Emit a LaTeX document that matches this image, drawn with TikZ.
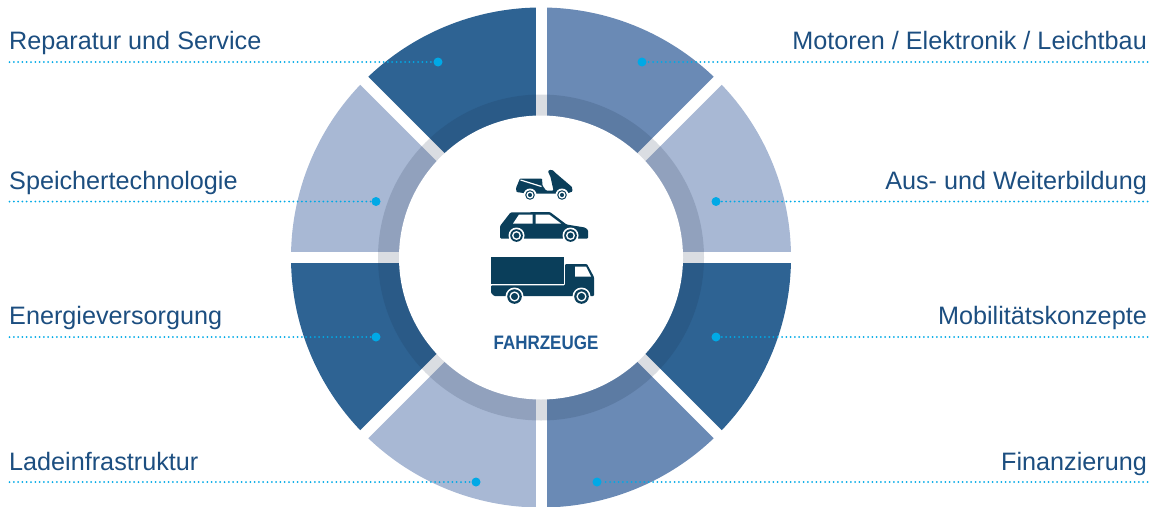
\documentclass[tikz,border=0pt]{standalone}
\usepackage{fontspec}
\setmainfont{Liberation Sans}
\usetikzlibrary{positioning}

\definecolor{segdark}{RGB}{46,99,147}
\definecolor{segmid}{RGB}{106,138,181}
\definecolor{seglight}{RGB}{168,184,212}
\definecolor{bandtint}{RGB}{25,45,75}
\definecolor{labelblue}{RGB}{28,78,128}
\definecolor{dotcyan}{RGB}{0,169,230}
\definecolor{iconteal}{RGB}{10,62,90}
\definecolor{titleblue}{RGB}{31,88,145}

\newcommand{\wheelat}[2]{%
  \fill[white] (#1) circle ({#2+1.7});
  \fill[vehicle] (#1) circle (#2);
  \draw[white, line width=1.3pt] (#1) circle ({#2*0.6});
}

\begin{document}
\begin{tikzpicture}[x=1pt, y=-1pt,
    itemtext/.style={inner sep=0pt, text=labelblue, font=\fontsize{25.2}{30}\selectfont},
    dot/.style={circle, fill=dotcyan, inner sep=0pt, minimum size=9pt},
    leader/.style={dotcyan, line width=2pt, line cap=round, dash pattern=on 0pt off 4.3pt},
    vehicle/.style={fill=iconteal}]
      \useasboundingbox (0,0) rectangle (1153,506);

      % ring
      \begin{scope}[shift={(541,257.5)}]
        \foreach \a/\col in {0/segdark, 45/segmid, 90/seglight, 135/segdark, 180/seglight, 225/segdark, 270/segmid, 315/seglight}
          \fill[\col] (\a:250) arc[start angle=\a, end angle=\a+45, radius=250] -- ({\a+45}:140) arc[start angle=\a+45, end angle=\a, radius=140] -- cycle;
        \foreach \a in {0,45,90,135}
          \draw[white, line width=11pt] (\a:253) -- ({\a+180}:253);
        \fill[bandtint, opacity=0.16] (0,0) circle (163);
        \fill[white] (0,0) circle (142);
      \end{scope}

      % labels
      \node[itemtext, anchor=base west] (rep) at (9,49.5) {Reparatur und Service};
      \node[itemtext, anchor=base west] (spe) at (9,189) {Speichertechnologie};
      \node[itemtext, anchor=base west] (ene) at (9,324.5) {Energieversorgung};
      \node[itemtext, anchor=base west] (lad) at (9,470) {Ladeinfrastruktur};
      \node[itemtext, anchor=base east] (mot) at (1147,49.5) {Motoren / Elektronik / Leichtbau};
      \node[itemtext, anchor=base east] (aus) at (1147,189) {Aus- und Weiterbildung};
      \node[itemtext, anchor=base east] (mob) at (1147,324.5) {Mobilitätskonzepte};
      \node[itemtext, anchor=base east] (fin) at (1147,470) {Finanzierung};

      % dots and leaders
      \node[dot] (repdot) at (438,62) {};
      \node[dot] (spedot) at (376,201.5) {};
      \node[dot] (enedot) at (376,337) {};
      \node[dot] (laddot) at (476,482) {};
      \node[dot] (motdot) at (642,62) {};
      \node[dot] (ausdot) at (716,201.5) {};
      \node[dot] (mobdot) at (716,337) {};
      \node[dot] (findot) at (597,482) {};
      \coordinate (repend) at (9.5,62);
      \coordinate (speend) at (9.5,201.5);
      \coordinate (eneend) at (9.5,337);
      \coordinate (ladend) at (9.5,482);
      \coordinate (motend) at (1147.5,62);
      \coordinate (ausend) at (1147.5,201.5);
      \coordinate (mobend) at (1147.5,337);
      \coordinate (finend) at (1147.5,482);
      \foreach \n in {rep,spe,ene,lad,mot,aus,mob,fin}
        \draw[leader] (\n end) -- (\n dot);

      % scooter
      \fill[vehicle, rounded corners=0.8pt] (516,188) -- (520,178.5) -- (542,178.5) -- (542.5,185.5) -- (546,190.5) -- (553.5,190.5) -- (550.5,177) -- (548,171.5) -- (549.5,169.8) -- (553,170.3) -- (555,172.5) -- (572,187) -- (572.5,191.5) -- (567,193.5) -- (527,193.5) -- (516.5,192) -- cycle;
      \draw[white, line width=1.2pt] (520.5,180) -- (541.5,186.5);
      \wheelat{530,195}{4.8}
      \wheelat{562,195}{4.8}

      % car
      \fill[vehicle, rounded corners=1pt] (500,238.5) -- (500,226) -- (510.5,212.5) -- (550,212) -- (566.5,224.5) -- (585,227.5) -- (588,230) -- (588,238.5) -- cycle;
      \fill[white] (513,223.5) -- (519,214.5) -- (532.5,214.5) -- (532.5,223.5) -- cycle;
      \fill[white] (535.5,214.5) -- (549,214.5) -- (561,223.5) -- (535.5,223.5) -- cycle;
      \wheelat{516.5,235.5}{6.3}
      \wheelat{570.5,235.5}{6.3}

      % truck
      \fill[vehicle] (491,257) rectangle (563.5,283.5);
      \fill[vehicle, rounded corners=1pt] (565,264) -- (587,264) -- (594,277) -- (594,296) -- (494,296) -- (491,293) -- (491,285.3) -- (565,285.3) -- cycle;
      \fill[white] (575,266.5) -- (586,266.5) -- (591,276.5) -- (575,276.5) -- cycle;
      \wheelat{514.5,296.5}{7.3}
      \wheelat{581.5,296.5}{7.3}

      \node[font=\fontsize{19.5}{22}\selectfont\bfseries, text=titleblue, anchor=base, inner sep=0pt] (title) at (546,349) {\scalebox{0.87}[1]{FAHRZEUGE}};
\end{tikzpicture}
\end{document}
